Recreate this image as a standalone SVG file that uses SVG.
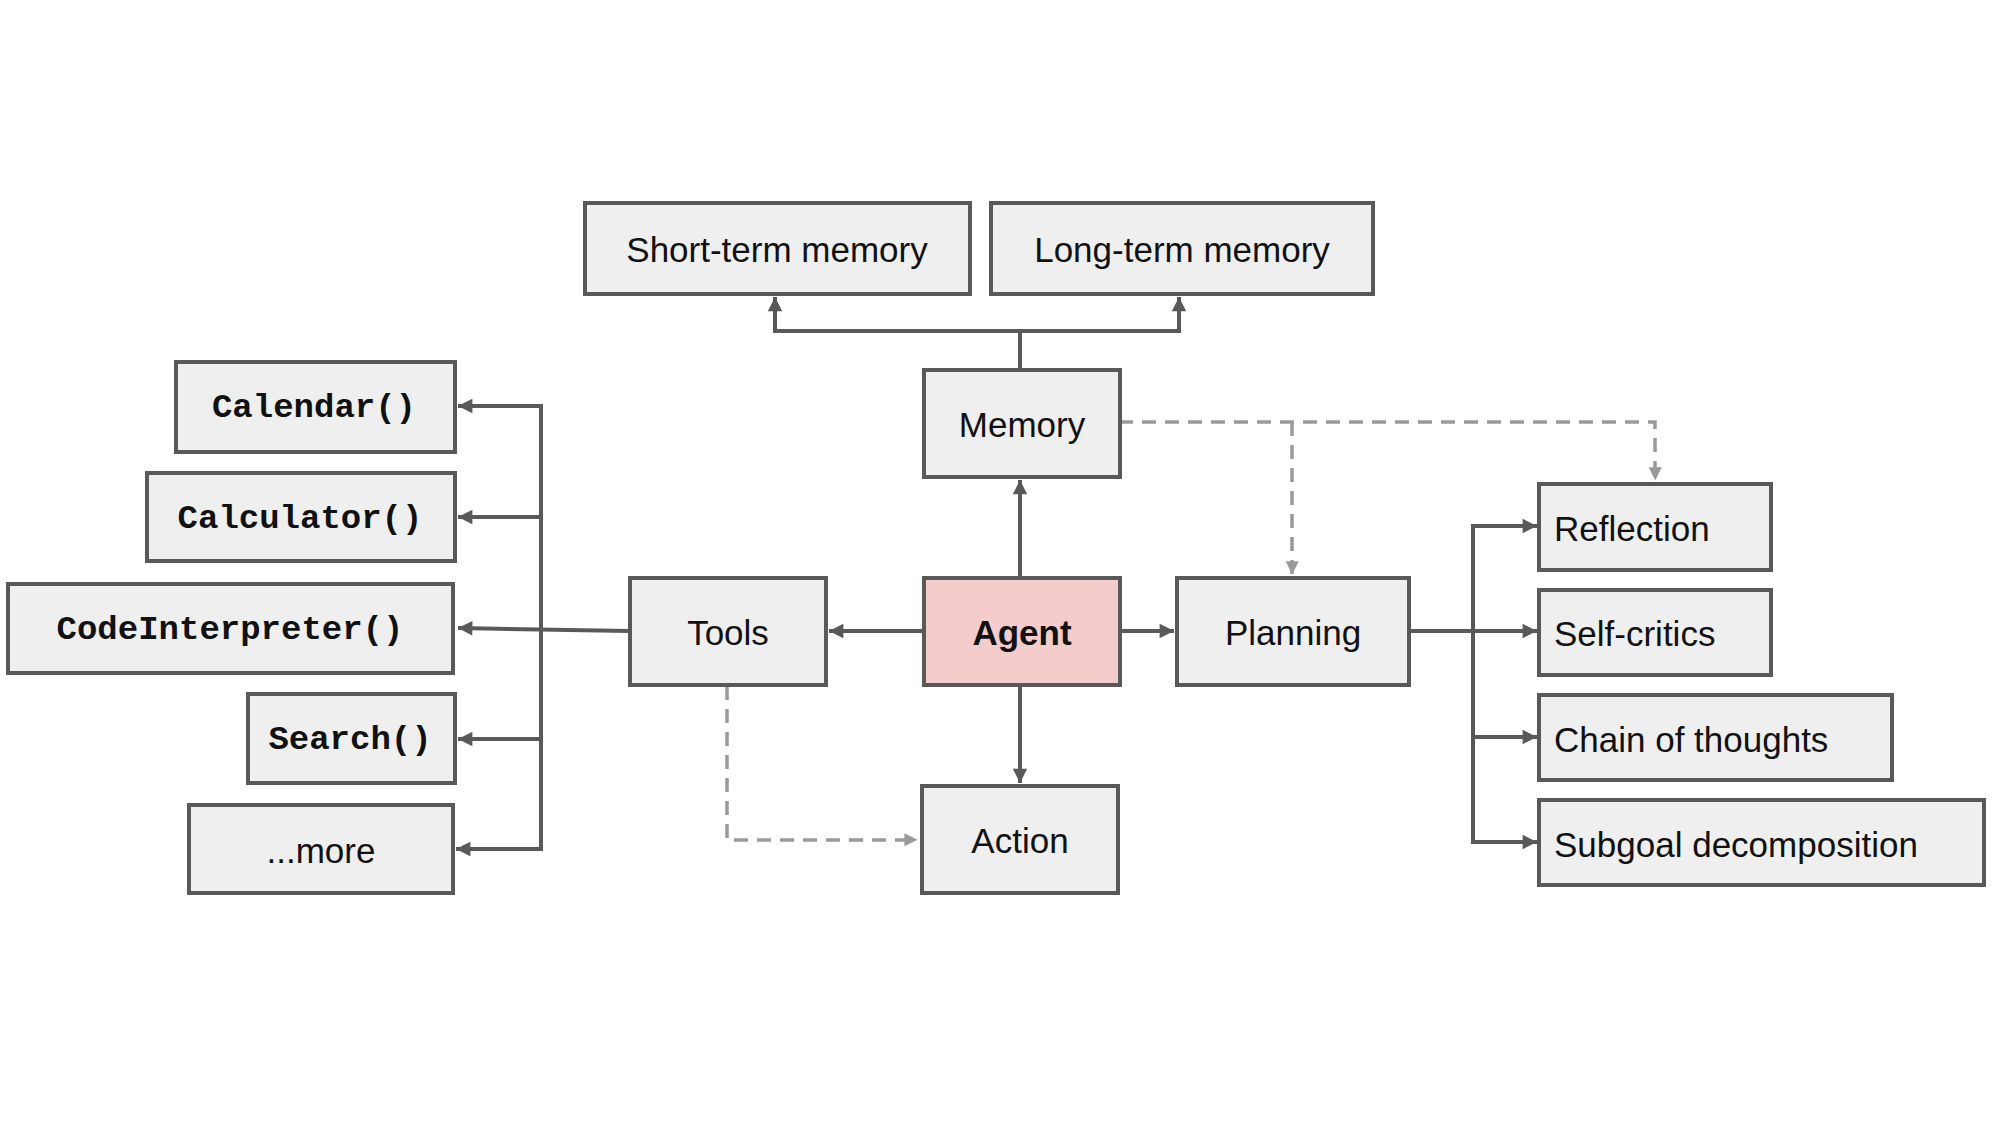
<svg xmlns="http://www.w3.org/2000/svg" width="2000" height="1125" viewBox="0 0 2000 1125">
<style>
.b rect{fill:#efefef;stroke:#595959;stroke-width:4}
.t{font-family:"Liberation Sans",Arial,sans-serif;font-size:35px;fill:#111;dominant-baseline:central}
.m{font-family:"Liberation Mono","Courier New",monospace;font-size:34px;font-weight:bold;fill:#111;dominant-baseline:central;text-anchor:middle}
.c{text-anchor:middle}
.s{fill:none;stroke:#595959;stroke-width:4}
.d{fill:none;stroke:#999;stroke-width:3.5;stroke-dasharray:14 9}
</style>
<defs>
<marker id="a" viewBox="0 0 10 10" refX="10" refY="5" markerWidth="6" markerHeight="6" markerUnits="userSpaceOnUse" orient="auto" style="overflow:visible"><path d="M0,0L10,5L0,10z" fill="#595959" transform="scale(2.4)translate(-5.8,-2.9)"/></marker>
<marker id="g" viewBox="0 0 10 10" refX="10" refY="5" markerWidth="6" markerHeight="6" markerUnits="userSpaceOnUse" orient="auto" style="overflow:visible"><path d="M0,0L10,5L0,10z" fill="#999" transform="scale(2.2)translate(-5.8,-2.9)"/></marker>
</defs>
<rect width="2000" height="1125" fill="#fff"/>
<g id="connectors">
<path class="s" d="M1020,369V331H775V297" marker-end="url(#a)"/>
<path class="s" d="M1020,331H1179V297" marker-end="url(#a)"/>
<path class="s" d="M1020,577V480" marker-end="url(#a)"/>
<path class="s" d="M1020,684V783" marker-end="url(#a)"/>
<path class="s" d="M922,631H829" marker-end="url(#a)"/>
<path class="s" d="M1119,631H1174" marker-end="url(#a)"/>
<path class="s" d="M1409,631H1537" marker-end="url(#a)"/>
<path class="s" d="M1473,631V526H1537" marker-end="url(#a)"/>
<path class="s" d="M1473,631V737H1537" marker-end="url(#a)"/>
<path class="s" d="M1473,737V842H1537" marker-end="url(#a)"/>
<path class="s" d="M629,631L458,628" marker-end="url(#a)"/>
<path class="s" d="M541,630V406H458" marker-end="url(#a)"/>
<path class="s" d="M541,630V517H458" marker-end="url(#a)"/>
<path class="s" d="M541,630V739H458" marker-end="url(#a)"/>
<path class="s" d="M541,739V849H456" marker-end="url(#a)"/>
<path class="d" d="M1119,422H1655V481" marker-end="url(#g)"/>
<path class="d" d="M1292,422V575" marker-end="url(#g)"/>
<path class="d" d="M727,686V840H918" marker-end="url(#g)"/>
</g>
<g id="short" class="b"><rect x="585" y="203" width="385" height="91"/><text class="t c" x="777" y="249">Short-term memory</text></g>
<g id="long" class="b"><rect x="991" y="203" width="382" height="91"/><text class="t c" x="1182" y="249">Long-term memory</text></g>
<g id="memory" class="b"><rect x="924" y="370" width="196" height="107"/><text class="t c" x="1022" y="424">Memory</text></g>
<g id="agent" class="b"><rect x="924" y="578" width="196" height="107" style="fill:#f4cccc"/><text class="t c" x="1022" y="632" font-weight="bold">Agent</text></g>
<g id="action" class="b"><rect x="922" y="786" width="196" height="107"/><text class="t c" x="1020" y="840">Action</text></g>
<g id="tools" class="b"><rect x="630" y="578" width="196" height="107"/><text class="t c" x="728" y="632">Tools</text></g>
<g id="planning" class="b"><rect x="1177" y="578" width="232" height="107"/><text class="t c" x="1293" y="632">Planning</text></g>
<g id="reflection" class="b"><rect x="1539" y="484" width="232" height="86"/><text class="t" x="1554" y="528">Reflection</text></g>
<g id="selfcritics" class="b"><rect x="1539" y="590" width="232" height="85"/><text class="t" x="1554" y="633">Self-critics</text></g>
<g id="chain" class="b"><rect x="1539" y="695" width="353" height="85"/><text class="t" x="1554" y="739">Chain of thoughts</text></g>
<g id="subgoal" class="b"><rect x="1539" y="800" width="445" height="85"/><text class="t" x="1554" y="844">Subgoal decomposition</text></g>
<g id="calendar" class="b"><rect x="176" y="362" width="279" height="90"/><text class="m" x="314" y="408">Calendar()</text></g>
<g id="calculator" class="b"><rect x="147" y="473" width="308" height="88"/><text class="m" x="300" y="519">Calculator()</text></g>
<g id="codeinterpreter" class="b"><rect x="8" y="584" width="445" height="89"/><text class="m" x="230" y="630">CodeInterpreter()</text></g>
<g id="search" class="b"><rect x="248" y="694" width="207" height="89"/><text class="m" x="350" y="740">Search()</text></g>
<g id="more" class="b"><rect x="189" y="805" width="264" height="88"/><text class="t c" x="321" y="850">...more</text></g>
</svg>
